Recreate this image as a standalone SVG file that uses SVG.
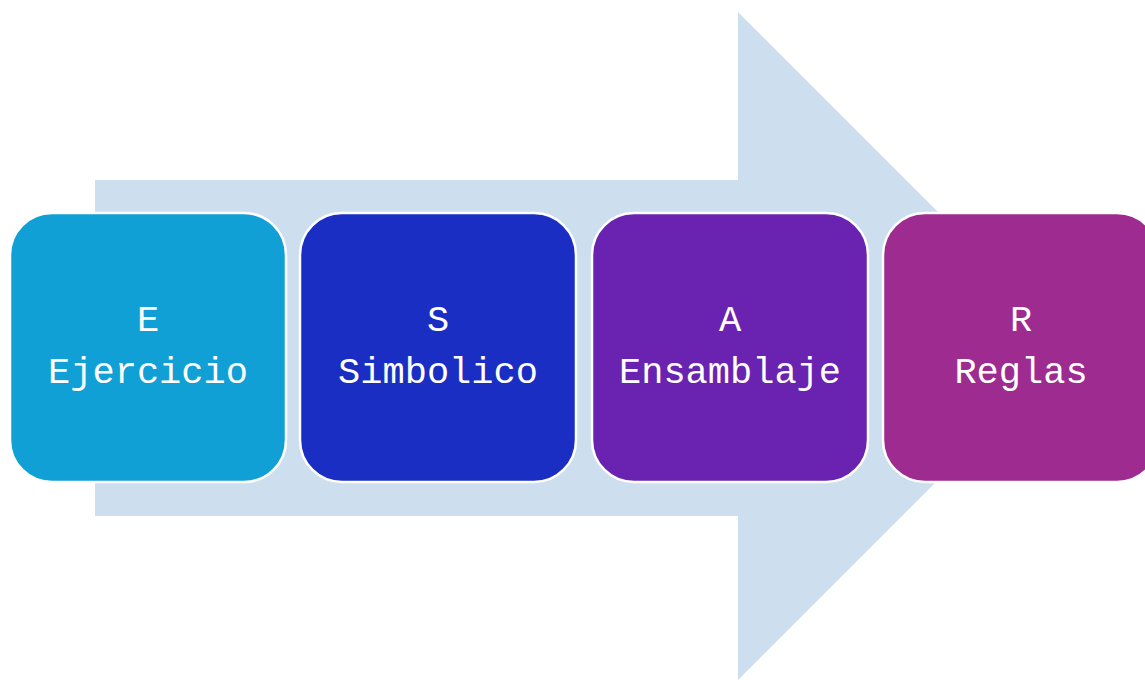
<svg xmlns="http://www.w3.org/2000/svg" width="1145" height="680" viewBox="0 0 1145 680">
<style>
.box{stroke:#ffffff;stroke-width:2.5}
.lbl{font-family:"Courier New","Liberation Mono",monospace;font-size:37px;fill:#ffffff;text-anchor:middle}
</style>
<rect width="1145" height="680" fill="#ffffff"/>
<g id="arrow">
<polygon points="95,180 738,180 738,12 1072,346 738,680 738,516 95,516" fill="#cddfee"/>
</g>
<g id="node-e">
<rect class="box" x="10" y="213" width="276" height="269" rx="42" fill="#11a0d6"/>
<text class="lbl" x="148" y="331">E</text>
<text class="lbl" x="148" y="383">Ejercicio</text>
</g>
<g id="node-s">
<rect class="box" x="300" y="213" width="276" height="269" rx="42" fill="#1a2ec4"/>
<text class="lbl" x="438" y="331">S</text>
<text class="lbl" x="438" y="383">Simbolico</text>
</g>
<g id="node-a">
<rect class="box" x="592" y="213" width="276" height="269" rx="42" fill="#6a23b0"/>
<text class="lbl" x="730" y="331">A</text>
<text class="lbl" x="730" y="383">Ensamblaje</text>
</g>
<g id="node-r">
<rect class="box" x="883" y="213" width="276" height="269" rx="42" fill="#9e2b90"/>
<text class="lbl" x="1021" y="331">R</text>
<text class="lbl" x="1021" y="383">Reglas</text>
</g>
<g id="connectors"></g>
</svg>
